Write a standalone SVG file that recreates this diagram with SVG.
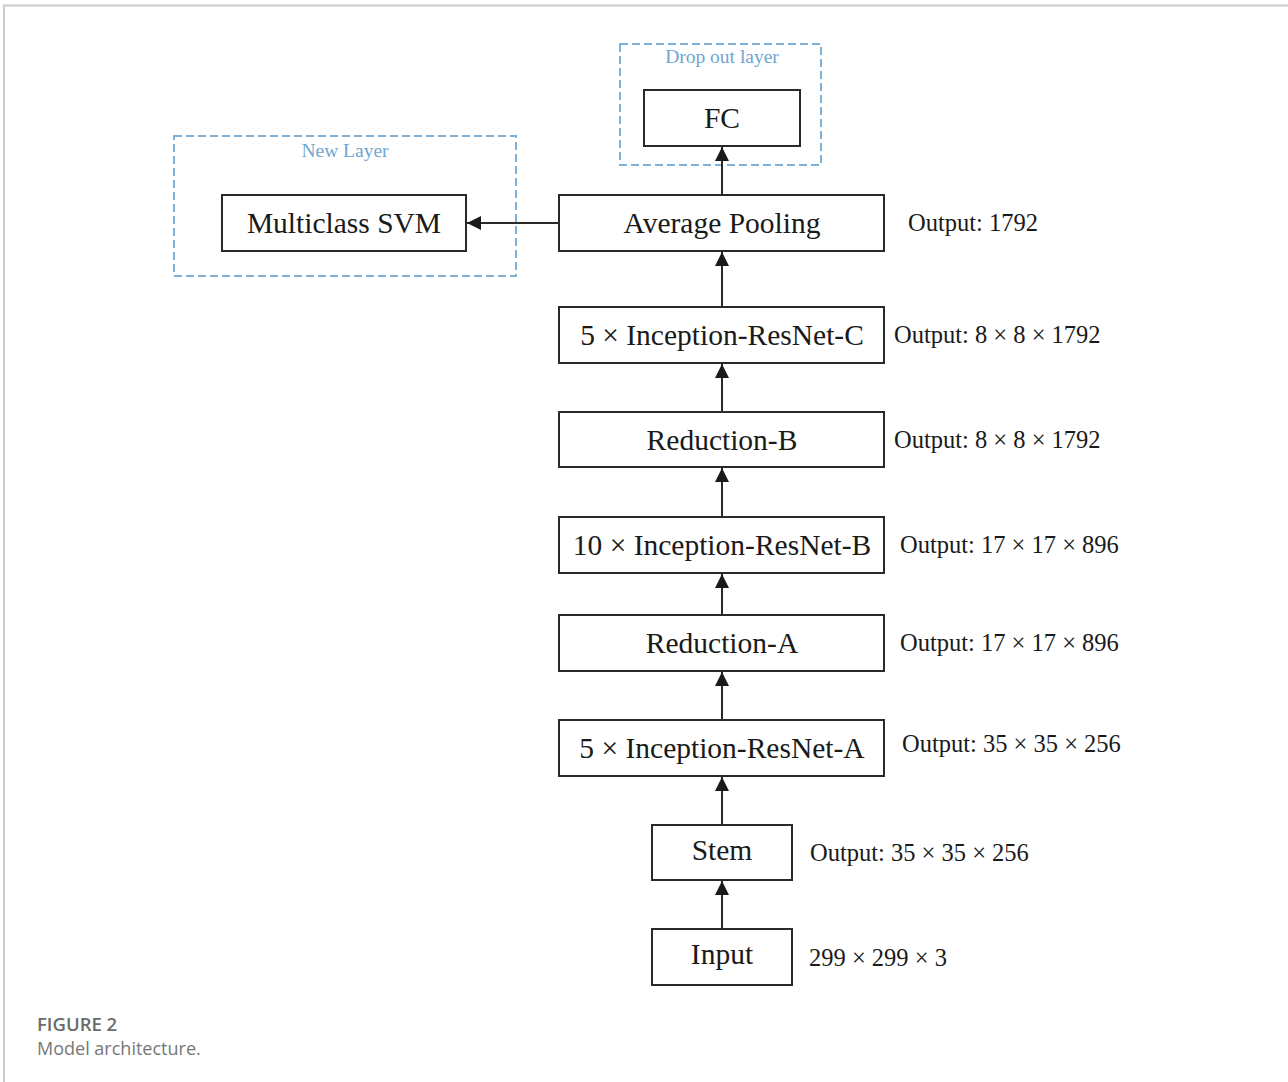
<svg xmlns="http://www.w3.org/2000/svg" width="1288" height="1082" viewBox="0 0 1288 1082">
  <style>
    .node rect { fill: #ffffff; stroke: #2a2a2a; stroke-width: 2; }
    .node text { font-family: "Liberation Serif", "Times New Roman", serif; font-size: 29.5px; fill: #1a1a1a; text-anchor: middle; }
    .out { font-family: "Liberation Serif", "Times New Roman", serif; font-size: 24.5px; fill: #1a1a1a; }
    .group rect { fill: none; stroke: #7fb0d6; stroke-width: 2; stroke-dasharray: 8 4; }
    .group text { font-family: "Liberation Serif", "Times New Roman", serif; font-size: 19.5px; fill: #6fa6d2; text-anchor: middle; }
    .edge { stroke: #2a2a2a; stroke-width: 2; fill: none; marker-end: url(#arrow); }
    .cap1 { font-family: "Open Sans", "Liberation Sans", sans-serif; font-size: 18.5px; font-weight: 600; fill: #6b6b6b; }
    .cap2 { font-family: "Open Sans", "Liberation Sans", sans-serif; font-size: 18px; fill: #777777; }
  </style>
  <defs>
    <marker id="arrow" markerUnits="userSpaceOnUse" markerWidth="14" markerHeight="16" refX="14" refY="7" orient="auto">
      <path d="M0,0 L14,7 L0,14 Z" fill="#1a1a1a"/>
    </marker>
  </defs>

  <rect x="0" y="0" width="1288" height="1082" fill="#ffffff"/>
  <!-- page frame -->
  <path d="M4,1082 V5.5 H1288" fill="none" stroke="#cccccc" stroke-width="2"/>

  <!-- dashed groupings -->
  <g id="grp-dropout" class="group">
    <rect x="620" y="44" width="201" height="121"/>
    <text x="722" y="63">Drop out layer</text>
  </g>
  <g id="grp-newlayer" class="group">
    <rect x="174" y="136" width="342" height="140"/>
    <text x="345" y="157">New Layer</text>
  </g>

  <!-- connectors -->
  <g id="connectors">
    <line class="edge" x1="722" y1="929" x2="722" y2="881"/>
    <line class="edge" x1="722" y1="825" x2="722" y2="777"/>
    <line class="edge" x1="722" y1="720" x2="722" y2="672"/>
    <line class="edge" x1="722" y1="615" x2="722" y2="574"/>
    <line class="edge" x1="722" y1="517" x2="722" y2="468"/>
    <line class="edge" x1="722" y1="412" x2="722" y2="364"/>
    <line class="edge" x1="722" y1="307" x2="722" y2="252"/>
    <line class="edge" x1="722" y1="195" x2="722" y2="147"/>
    <line class="edge" x1="559" y1="223" x2="467" y2="223"/>
  </g>

  <!-- nodes -->
  <g id="node-fc" class="node">
    <rect x="644" y="90" width="156" height="56"/>
    <text x="722" y="128">FC</text>
  </g>
  <g id="node-svm" class="node">
    <rect x="222" y="195" width="244" height="56"/>
    <text x="344" y="233">Multiclass SVM</text>
  </g>
  <g id="node-avgpool" class="node">
    <rect x="559" y="195" width="325" height="56"/>
    <text x="722" y="233">Average Pooling</text>
  </g>
  <g id="node-irc" class="node">
    <rect x="559" y="307" width="325" height="56"/>
    <text x="722" y="345">5 × Inception-ResNet-C</text>
  </g>
  <g id="node-redb" class="node">
    <rect x="559" y="412" width="325" height="55"/>
    <text x="722" y="450">Reduction-B</text>
  </g>
  <g id="node-irb" class="node">
    <rect x="559" y="517" width="325" height="56"/>
    <text x="722" y="555">10 × Inception-ResNet-B</text>
  </g>
  <g id="node-reda" class="node">
    <rect x="559" y="615" width="325" height="56"/>
    <text x="722" y="653">Reduction-A</text>
  </g>
  <g id="node-ira" class="node">
    <rect x="559" y="720" width="325" height="56"/>
    <text x="722" y="758">5 × Inception-ResNet-A</text>
  </g>
  <g id="node-stem" class="node">
    <rect x="652" y="825" width="140" height="55"/>
    <text x="722" y="860">Stem</text>
  </g>
  <g id="node-input" class="node">
    <rect x="652" y="929" width="140" height="56"/>
    <text x="722" y="964">Input</text>
  </g>

  <!-- output shapes -->
  <g id="outputs">
    <text class="out" x="908" y="231">Output: 1792</text>
    <text class="out" x="894" y="343">Output: 8 × 8 × 1792</text>
    <text class="out" x="894" y="448">Output: 8 × 8 × 1792</text>
    <text class="out" x="900" y="553">Output: 17 × 17 × 896</text>
    <text class="out" x="900" y="651">Output: 17 × 17 × 896</text>
    <text class="out" x="902" y="752">Output: 35 × 35 × 256</text>
    <text class="out" x="810" y="861">Output: 35 × 35 × 256</text>
    <text class="out" x="809" y="966">299 × 299 × 3</text>
  </g>

  <!-- caption -->
  <text class="cap1" x="37" y="1031">FIGURE 2</text>
  <text class="cap2" x="37" y="1055">Model architecture.</text>
</svg>
